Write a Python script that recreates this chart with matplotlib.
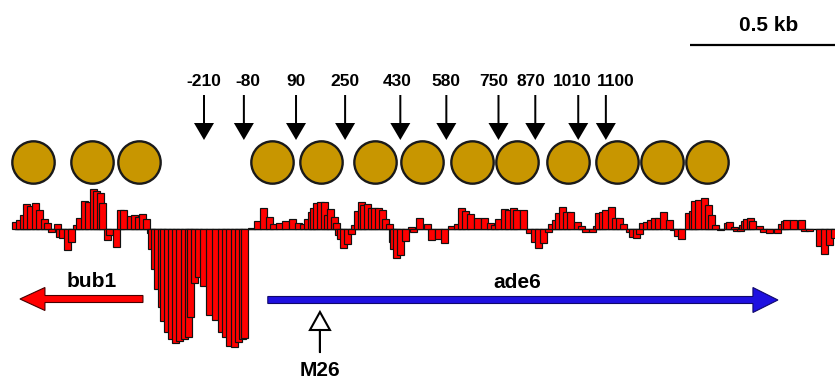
import numpy as np
import matplotlib.pyplot as plt
from matplotlib.patches import FancyArrow

# probe positions (bp, relative to ade6 start) and signal (arbitrary units)
probe_pos = [
    -826, -813, -800, -787, -774, -758, -745, -729, -719, -706,
    -689, -680, -670, -654, -641, -624, -615, -601, -585, -569,
    -559, -549, -540, -526, -517, -494, -481, -471, -448, -438,
    -425, -409, -396,
    -386, -380, -370, -360, -350, -341, -328, -315, -302, -289,
    -275, -262, -253, -240, -227, -210, -191, -171, -152, -139,
    -126, -112, -99, -86, -77,
    -54, -34, -15, 5, 15, 37, 57, 77, 99, 116,
    129, 139, 148, 158, 171, 184, 191, 204, 214, 223,
    230, 236, 246, 259, 272, 279, 289, 302, 311, 324,
    337, 347, 360, 373, 383, 396, 403, 409, 416, 432,
    448, 468, 474, 491, 517, 533, 553, 575, 598, 615,
    631, 644, 660, 680, 706, 725, 738, 751, 768, 784,
    800, 810, 833, 852, 866, 879,
    898, 914, 924, 937, 947, 960, 973, 986, 1006, 1019,
    1035, 1055, 1068, 1077, 1090, 1100, 1120, 1130, 1143, 1159,
    1178, 1188, 1201, 1211, 1221, 1234, 1247, 1260, 1273, 1289,
    1309, 1319, 1332, 1348,
    1368, 1381, 1390, 1403, 1420, 1433, 1446, 1456, 1475, 1498,
    1504, 1518, 1527, 1540, 1547, 1553, 1560, 1570, 1579, 1602,
    1615, 1635, 1658, 1671, 1681, 1690, 1713, 1739, 1749, 1765,
    1795, 1814, 1830, 1844,
]
signal = [
    7, 9, 14, 25, 23, 26, 19, 10, 6, -3,
    5, -8, -9, -21, -13, 4, 11, 28, 27, 40,
    38, 36, 26, -11, -6, -18, 19, 19, 13, 14,
    12, 15, 10,
    -4, -20, -40, -60, -78, -92, -103, -110, -114, -112,
    -110, -108, -88, -54, -48, -57, -86, -91, -103, -108,
    -117, -118, -113, -110, -109,
    1, 8, 21, 12, 5, 6, 8, 10, 6, 5,
    10, 17, 21, 26, 27, 27, 14, 20, 12, 6,
    -6, -10, -19, -15, -5, 4, 18, 27, 24, 25,
    21, 21, 21, 19, 10, 5, -13, -20, -29, -26,
    -12, 2, -3, 11, 5, -11, -10, -14, 3, 5,
    21, 18, 15, 11, 11, 6, 4, 10, 20, 19,
    21, 19, 19, -4, -13, -19,
    -14, -3, 5, 9, 16, 22, 17, 17, 7, 3,
    -3, -3, 3, 16, 17, 19, 22, 11, 11, 5,
    -3, -8, -9, -5, 6, 7, 9, 11, 11, 17,
    9, -1, -7, -10,
    16, 18, 28, 29, 31, 24, 14, 4, -1, 6,
    7, 2, -2, -2, 4, 8, 10, 11, 8, 3,
    -3, -4, -4, 5, 8, 9, 9, 9, -2, -2,
    -17, -25, -16, -9,
]

nucleosome_pos = [-768, -575, -422, 11, 171, 347, 500, 663, 810, 976, 1136, 1283, 1430]
site_pos = [-210, -80, 90, 250, 430, 580, 750, 870, 1010, 1100]
site_labels = ["-210", "-80", "90", "250", "430", "580", "750", "870", "1010", "1100"]
bub1_span = (-409, -810)
ade6_span = (-2, 1661)
m26_pos = 168

BPX = 3.26  # bp per pixel, used for shape widths
FONT = "Liberation Sans"
# small horizontal nudges (px) so crowded labels don't collide
label_nudge = {"-80": 4, "430": -3, "750": -5, "870": -4, "1010": -6, "1100": 10}

fig = plt.figure(figsize=(8.35, 3.8), dpi=100)
ax = fig.add_axes([0, 0, 1, 1])
ax.set_xlim(-875, 1847)
ax.set_ylim(-151, 229)
ax.axis("off")

# signal trace
ax.plot([probe_pos[0], probe_pos[-1]], [0, 0], color="black", lw=1, zorder=1)
ax.bar(probe_pos, signal, width=7 * BPX, color="#ff0000",
       edgecolor="#111111", linewidth=0.85, zorder=2)

# nucleosomes
ax.scatter(nucleosome_pos, [67] * len(nucleosome_pos), s=930,
           color="#c89600", edgecolor="#1a1a1a", linewidth=1.7, zorder=3)

# hypersensitive sites
for x, lab in zip(site_pos, site_labels):
    ax.add_patch(FancyArrow(x, 134, 0, -45, width=2 * BPX, head_width=20 * BPX,
                            head_length=17, length_includes_head=True,
                            color="black", lw=0))
    ax.text(x + label_nudge.get(lab, 0) * BPX, 143, lab, ha="center",
            va="baseline", fontsize=12.5, fontweight="bold", family=FONT)

# scale bar
ax.plot([1375, 1847], [184, 184], color="black", lw=1.6, solid_capstyle="butt")
ax.text(1632, 198, "0.5 kb", ha="center", va="baseline", fontsize=15,
        fontweight="bold", family=FONT)

# genes
ax.add_patch(FancyArrow(bub1_span[0], -70, bub1_span[1] - bub1_span[0], 0,
                        width=7, head_width=23, head_length=25 * BPX,
                        length_includes_head=True, fc="#ff0000", ec="#440000", lw=0.8))
ax.text(np.mean(bub1_span) + 35, -58, "bub1", ha="center", va="baseline",
        fontsize=15, fontweight="bold", family=FONT)
ax.add_patch(FancyArrow(ade6_span[0], -71, ade6_span[1] - ade6_span[0], 0,
                        width=7, head_width=25, head_length=25 * BPX,
                        length_includes_head=True, fc="#1e10e0", ec="#10086a", lw=0.8))
ax.text(810, -59, "ade6", ha="center", va="baseline",
        fontsize=15, fontweight="bold", family=FONT)

# M26 site
ax.add_patch(FancyArrow(m26_pos, -123, 0, 40, width=0.01, head_width=20 * BPX,
                        head_length=18, length_includes_head=True,
                        fc="white", ec="black", lw=1.5, zorder=4))
ax.text(m26_pos, -147, "M26", ha="center", va="baseline", fontsize=15,
        fontweight="bold", family=FONT)

fig.savefig("out.png", dpi=100)
